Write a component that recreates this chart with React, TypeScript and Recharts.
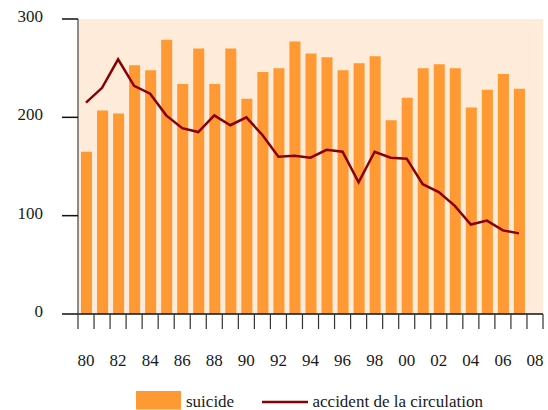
import React from "react";
import { ComposedChart, Bar, Line, XAxis, YAxis, CartesianGrid, Legend } from "recharts";

const years = ["80","81","82","83","84","85","86","87","88","89","90","91","92","93","94","95","96","97","98","99","00","01","02","03","04","05","06","07","08"];
const suicide = [165,207,204,253,248,279,234,270,234,270,219,246,250,277,265,261,248,255,262,197,220,250,254,250,210,228,244,229,null];
const accident = [215,230,259,232,224,202,189,185,202,192,200,182,160,161,159,167,165,134,165,159,158,132,124,110,91,95,85,82,null];
const yTicks = [0, 100, 200, 300];

const data = years.map((y, i) => ({ year: y, suicide: suicide[i], accident: accident[i] }));

const FONT = "Liberation Serif, Times New Roman, serif";
const BAR = "#FF9933";
const LINE = "#880000";
const BG = "#FFEBD9";
const TXT = "#1a1a1a";

const W = 548;
const H = 410;
const LEFT = 78;
const RIGHT = 5;
const BAND = (W - LEFT - RIGHT) / years.length;

const textStyle = { fontFamily: FONT, fontSize: 17, fill: TXT };

const XTick = (props: any) => {
  const { x, y, payload, index } = props;
  const half = payload && payload.offset ? payload.offset : BAND / 2;
  const show = index % 2 === 0;
  return (
    <g>
      <line x1={x - half} x2={x - half} y1={y} y2={y + 15} stroke="#333" strokeWidth={1.2} />
      {index === years.length - 1 && (
        <line x1={x + half} x2={x + half} y1={y} y2={y + 15} stroke="#333" strokeWidth={1.2} />
      )}
      {show && (
        <text x={x} y={y + 52} textAnchor="middle" style={textStyle}>
          {payload.value}
        </text>
      )}
    </g>
  );
};

const YTick = (props: any) => {
  const { x, y, payload } = props;
  return (
    <text x={x - 1} y={y} dy={3} textAnchor="end" style={textStyle}>
      {payload.value}
    </text>
  );
};

const LegendContent = () => (
  <svg width={W} height={46} style={{ display: "block" }}>
    <rect x={136} y={27} width={45} height={18.5} fill={BAR} />
    <text x={186} y={42.5} style={textStyle}>suicide</text>
    <line x1={262} x2={308} y1={38} y2={38} stroke={LINE} strokeWidth={2.5} />
    <text x={312.5} y={42.5} style={textStyle}>accident de la circulation</text>
  </svg>
);

export default function App() {
  return (
    <div style={{ position: "absolute", left: 0, top: 0, width: W, height: H, fontFamily: FONT }}>
      <ComposedChart
        width={W}
        height={H}
        data={data}
        margin={{ top: 19, right: RIGHT, bottom: 0, left: 0 }}
      >
        <CartesianGrid horizontal={false} vertical={false} fill={BG} stroke="none" />
        <XAxis
          dataKey="year"
          interval={0}
          height={50}
          tickSize={0}
          tickMargin={0}
          tickLine={false}
          axisLine={{ stroke: "#111", strokeWidth: 1.5 }}
          tick={<XTick />}
        />
        <YAxis
          width={LEFT}
          domain={[0, 300]}
          ticks={yTicks}
          interval={0}
          tickSize={16}
          tickMargin={18}
          tickLine={{ stroke: "#111", strokeWidth: 1.5 }}
          axisLine={{ stroke: "#666", strokeWidth: 1.5 }}
          tick={<YTick />}
        />
        <Legend
          verticalAlign="bottom"
          content={<LegendContent />}
          wrapperStyle={{ left: 0, width: W, height: 46 }}
        />
        <Bar dataKey="suicide" fill={BAR} barSize={11} isAnimationActive={false} />
        <Line
          dataKey="accident"
          stroke={LINE}
          strokeWidth={2.5}
          dot={false}
          type="linear"
          isAnimationActive={false}
        />
      </ComposedChart>
    </div>
  );
}
